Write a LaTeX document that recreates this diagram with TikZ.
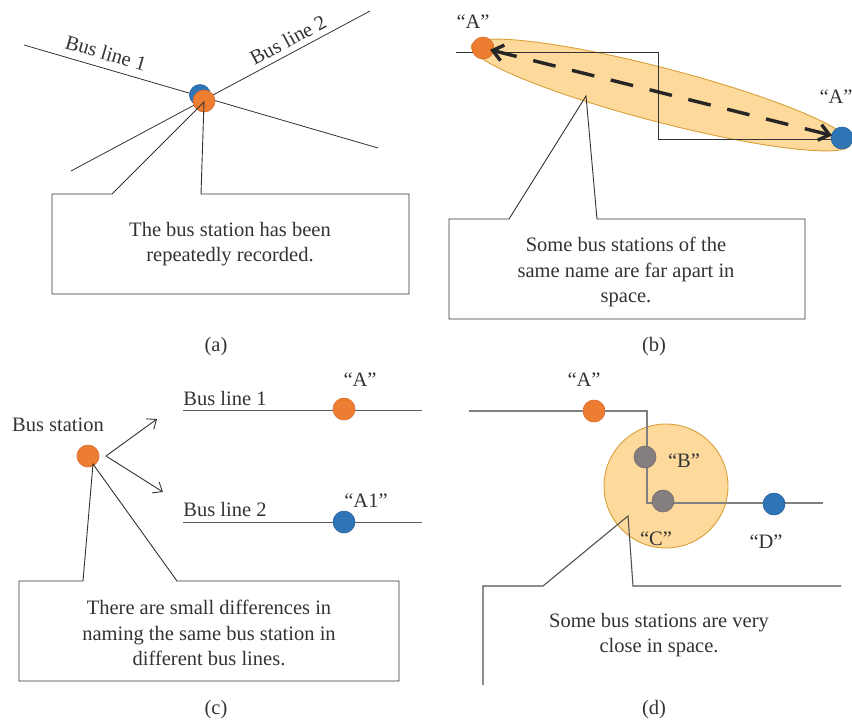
\documentclass[tikz,border=0pt]{standalone}
\usepackage{fontspec}
\setmainfont{Liberation Serif}
\usetikzlibrary{arrows.meta}
\definecolor{orst}{HTML}{ED7D31}
\definecolor{orbd}{HTML}{D8692A}
\definecolor{blst}{HTML}{2E75B6}
\definecolor{blbd}{HTML}{2A64A0}
\definecolor{grst}{HTML}{857E7F}
\definecolor{zone}{HTML}{FDD99B}
\definecolor{zonebd}{HTML}{D9A038}
\definecolor{ink}{HTML}{333333}
\definecolor{glin}{HTML}{808080}
\tikzset{
  txt/.style={font=\fontsize{20.5}{25.5}\selectfont, text=ink, inner sep=0pt},
  note/.style={txt, align=center},
  st/.style={circle, minimum size=22pt, inner sep=0pt, line width=0.6pt},
  orst/.style={st, fill=orst, draw=orbd},
  blst/.style={st, fill=blst, draw=blbd},
  grst/.style={st, fill=grst, draw=grst!85!black},
  wire/.style={draw=ink, line width=0.8pt},
  gwire/.style={draw=glin, line width=1.2pt},
  callout/.style={draw=ink, line width=0.9pt},
  barb/.style={-{Straight Barb[length=8pt,width=13pt]}, draw=ink, line width=0.9pt}
}
\begin{document}
\begin{tikzpicture}[x=1pt,y=-1pt]
\useasboundingbox (0,0) rectangle (852,724);

% ---------- (a) ----------
\coordinate (a1s) at (24,45);
\coordinate (a1e) at (378,148);
\coordinate (a2s) at (71,171);
\coordinate (a2e) at (370,11);
\draw[wire] (a1s) -- (a1e);
\draw[wire] (a2s) -- (a2e);
\node[blst, minimum size=21pt] (aB) at (200,95) {};
\node[orst] (aO) at (204,101) {};
\node[txt, rotate=-16.2] (aL1) at (106,53) {Bus line 1};
\node[txt, rotate=28.2] (aL2) at (288,40) {Bus line 2};
\coordinate (aT) at (204,102);
\draw[callout] (112,194) -- (aT) -- (201,194) -- (409,194) -- (409,294) -- (52,294) -- (52,194) -- cycle;
\node[note] (aN) at (230,244) {The bus station has been\\repeatedly recorded.};
\node[txt] (aCap) at (216,347) {(a)};

% ---------- (b) ----------
\fill[zone, draw=zonebd, line width=0.9pt, shift={(661,95)}, rotate=-14.6] (0,0) ellipse [x radius=196pt, y radius=27pt];
\coordinate (bLs) at (456,52);
\coordinate (bK1) at (658,52);
\coordinate (bK2) at (658,139);
\coordinate (bLe) at (852,139);
\draw[wire] (bLs) -- (bK1) -- (bK2) -- (bLe);
\node[orst] (bO) at (483,48) {};
\node[blst] (bB) at (842,138) {};
\draw[{Straight Barb[length=10pt,width=16pt]}-{Straight Barb[length=10pt,width=16pt]}, draw=black!85, line width=3.4pt, dash pattern=on 23pt off 17pt, shorten <=-4pt, shorten >=-1pt] (bO) -- (bB);
\node[txt] (bQ1) at (473,22) {“A”};
\node[txt] (bQ2) at (836,97) {“A”};
\coordinate (bT) at (586,96);
\draw[callout] (509,219) -- (bT) -- (597,219) -- (805,219) -- (805,319) -- (449,319) -- (449,219) -- cycle;
\node[note] (bN) at (626,272) {Some bus stations of the\\same name are far apart in\\space.};
\node[txt] (bCap) at (654,347) {(b)};

% ---------- (c) ----------
\node[txt] (cBS) at (58,425) {Bus station};
\node[orst] (cO) at (88,456) {};
\coordinate (cA0) at (106,456);
\coordinate (cA1) at (157,419);
\coordinate (cA2) at (163,492);
\draw[barb] (cA0) -- (cA1);
\draw[barb] (cA0) -- (cA2);
\coordinate (c1s) at (183,410);
\coordinate (c1e) at (422,410);
\coordinate (c2s) at (183,522);
\coordinate (c2e) at (422,522);
\draw[wire, draw=ink!80] (c1s) -- (c1e);
\draw[wire, draw=ink!80] (c2s) -- (c2e);
\node[txt] (cL1) at (225,398) {Bus line 1};
\node[txt] (cL2) at (225,509) {Bus line 2};
\node[orst] (cA) at (344,409) {};
\node[blst] (cB) at (344,522) {};
\node[txt] (cQA) at (360,380) {“A”};
\node[txt] (cQA1) at (366,501) {“A1”};
\coordinate (cT) at (93,464);
\draw[callout] (83,581) -- (cT) -- (177,581) -- (399,581) -- (399,681) -- (19,681) -- (19,581) -- cycle;
\node[note] (cN) at (209,633) {There are small differences in\\naming the same bus station in\\different bus lines.};
\node[txt] (cCap) at (216,710) {(c)};

% ---------- (d) ----------
\fill[zone, draw=zonebd, line width=0.9pt] (666,486) circle (62pt);
\coordinate (dLs) at (469,411);
\coordinate (dK1) at (647,411);
\coordinate (dK2) at (647,503);
\coordinate (dLe) at (823,503);
\draw[gwire] (dLs) -- (dK1) -- (dK2) -- (dLe);
\node[orst] (dA) at (594,411) {};
\node[grst] (dB) at (645,457) {};
\node[grst] (dC) at (663,501) {};
\node[blst] (dD) at (774,504) {};
\node[txt] (dQA) at (584,380) {“A”};
\node[txt] (dQB) at (684,461) {“B”};
\node[txt] (dQC) at (656,539) {“C”};
\node[txt] (dQD) at (766,542) {“D”};
\coordinate (dT) at (628,516);
\draw[gwire, draw=ink!85, line width=1.1pt] (483,685) -- (483,586) -- (543,586) -- (dT) -- (633,586) -- (841,586);
\node[note] (dN) at (659,635) {Some bus stations are very\\close in space.};
\node[txt] (dCap) at (654,710) {(d)};
\end{tikzpicture}
\end{document}
